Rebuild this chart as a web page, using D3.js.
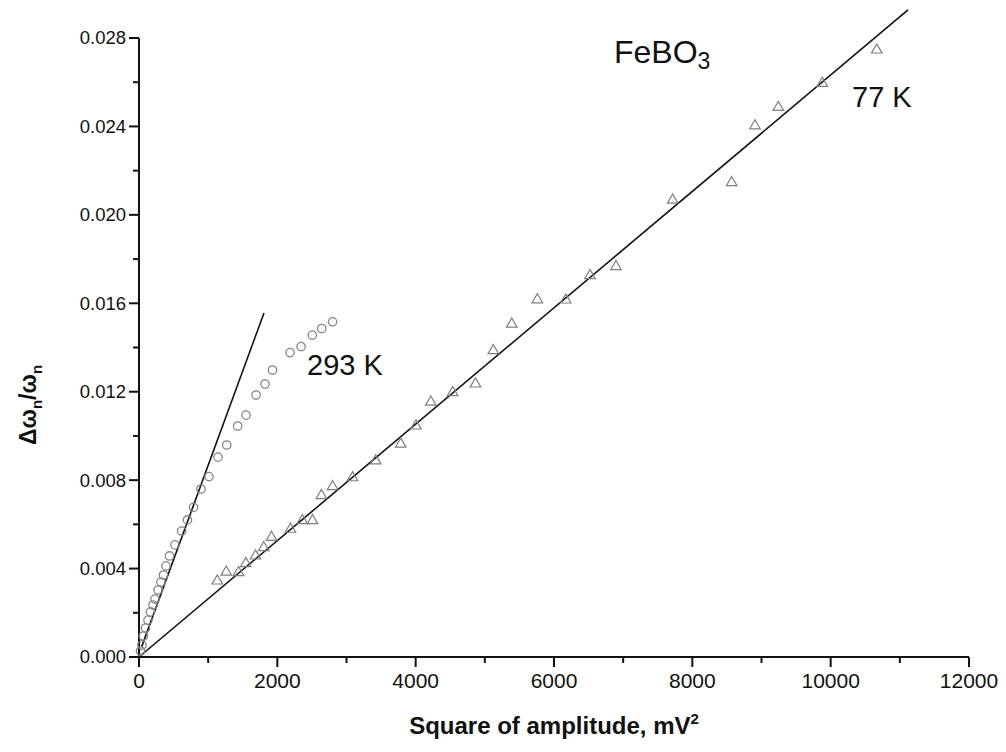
<!DOCTYPE html>
<html>
<head>
<meta charset="utf-8">
<script src="https://cdn.jsdelivr.net/npm/d3@7"></script>
<style>
  html, body { margin: 0; padding: 0; background: #fff; }
  svg { display: block; }
</style>
</head>
<body>
<svg id="chart" width="1006" height="752"></svg>
<script>
// ---- data ----
const xTickValues = [0, 2000, 4000, 6000, 8000, 10000, 12000];
const yTickValues = [0, 0.004, 0.008, 0.012, 0.016, 0.020, 0.024, 0.028];
const xMinorTicks = [1000, 3000, 5000, 7000, 9000, 11000];
const yMinorTicks = [0.002, 0.006, 0.010, 0.014, 0.018, 0.022, 0.026];

// 293 K (circles)
const amp293 = [22, 43, 62, 94, 130, 166, 202, 231, 275, 318, 354, 390, 441, 520, 617, 701, 788, 896, 1012, 1142, 1268, 1427, 1547, 1692, 1822, 1930, 2183, 2343, 2506, 2642, 2798];
const dw293  = [0.00027, 0.00054, 0.00095, 0.00131, 0.00167, 0.00204, 0.00235, 0.00262, 0.00303, 0.00339, 0.00371, 0.00412, 0.00457, 0.00507, 0.00570, 0.00620, 0.00677, 0.00760, 0.00816, 0.00904, 0.00959, 0.01045, 0.01094, 0.01185, 0.01235, 0.01298, 0.01377, 0.01404, 0.01456, 0.01486, 0.01516];

// 77 K (triangles)
const amp77 = [1132, 1262, 1439, 1544, 1684, 1803, 1916, 2190, 2361, 2508, 2637, 2799, 3087, 3422, 3784, 4005, 4219, 4535, 4865, 5122, 5389, 5759, 6169, 6521, 6896, 7716, 8569, 8906, 9243, 9879, 10666];
const dw77  = [0.00344, 0.00384, 0.00382, 0.00423, 0.00457, 0.00495, 0.00541, 0.00578, 0.00617, 0.00617, 0.00730, 0.00771, 0.00811, 0.00887, 0.00963, 0.01045, 0.01153, 0.01196, 0.01235, 0.01386, 0.01506, 0.01616, 0.01615, 0.01725, 0.01766, 0.02067, 0.02146, 0.02403, 0.02486, 0.02595, 0.02746];

// linear fits (end points)
const fit293X = [39, 1807];
const fit293Y = [0.00047, 0.01556];
const fit77X = [0, 11118];
const fit77Y = [0, 0.02927];

// ---- layout ----
const svg = d3.select("#chart");
const x = d3.scaleLinear().domain([0, 12000]).range([139, 969]);
const y = d3.scaleLinear().domain([0, 0.028]).range([657, 38]);

const axisColor = "#111";

// X axis
const gx = svg.append("g").attr("transform", `translate(0,${y(0)})`);
gx.append("line").attr("x1", x(0)).attr("x2", x(12000)).attr("y1", 0).attr("y2", 0)
  .attr("stroke", axisColor).attr("stroke-width", 2);
gx.selectAll(".xmaj").data(xTickValues).join("line")
  .attr("x1", d => x(d)).attr("x2", d => x(d)).attr("y1", 0).attr("y2", 10)
  .attr("stroke", axisColor).attr("stroke-width", 2);
gx.selectAll(".xmin").data(xMinorTicks).join("line")
  .attr("x1", d => x(d)).attr("x2", d => x(d)).attr("y1", 0).attr("y2", 6)
  .attr("stroke", axisColor).attr("stroke-width", 2);
gx.selectAll(".xlab").data(xTickValues).join("text")
  .attr("x", d => x(d)).attr("y", 31)
  .attr("text-anchor", "middle")
  .attr("font-family", "'Liberation Sans Narrow', 'Arial Narrow', 'Liberation Sans', Arial, sans-serif")
  .attr("font-size", 21).attr("fill", "#111")
  .text(d => d3.format("d")(d));

// Y axis
const gy = svg.append("g").attr("transform", `translate(${x(0)},0)`);
gy.append("line").attr("x1", 0).attr("x2", 0).attr("y1", y(0)).attr("y2", y(0.028))
  .attr("stroke", axisColor).attr("stroke-width", 2);
gy.selectAll(".ymaj").data(yTickValues).join("line")
  .attr("x1", 0).attr("x2", -10).attr("y1", d => y(d)).attr("y2", d => y(d))
  .attr("stroke", axisColor).attr("stroke-width", 2);
gy.selectAll(".ymin").data(yMinorTicks).join("line")
  .attr("x1", 0).attr("x2", -6).attr("y1", d => y(d)).attr("y2", d => y(d))
  .attr("stroke", axisColor).attr("stroke-width", 2);
gy.selectAll(".ylab").data(yTickValues).join("text")
  .attr("x", -13).attr("y", d => y(d)).attr("dy", "0.35em")
  .attr("text-anchor", "end")
  .attr("font-family", "'Liberation Sans', Arial, sans-serif")
  .attr("font-size", 18.5).attr("fill", "#111")
  .text(d => d3.format(".3f")(d));

// Axis titles
const xt = svg.append("text")
  .attr("x", (x(0) + x(12000)) / 2).attr("y", 734)
  .attr("text-anchor", "middle")
  .attr("font-family", "'Liberation Sans Narrow', 'Arial Narrow', 'Liberation Sans', Arial, sans-serif")
  .attr("font-weight", "bold").attr("font-size", 24).attr("fill", "#111");
xt.append("tspan").text("Square of amplitude, mV");
xt.append("tspan").attr("font-size", 15).attr("dy", -10).text("2");

const yt = svg.append("text")
  .attr("transform", "translate(36,405) rotate(-90)")
  .attr("text-anchor", "middle")
  .attr("font-family", "'Liberation Sans', Arial, sans-serif")
  .attr("font-weight", "bold").attr("font-size", 23).attr("fill", "#111");
yt.append("tspan").text("Δω");
yt.append("tspan").attr("font-size", 15).attr("dy", 6).text("n");
yt.append("tspan").attr("dy", -6).text("/ω");
yt.append("tspan").attr("font-size", 15).attr("dy", 6).text("n");

// Fit lines
const line = d3.line().x(d => x(d[0])).y(d => y(d[1]));
svg.append("path").datum(d3.zip(fit293X, fit293Y)).attr("d", line)
  .attr("fill", "none").attr("stroke", "#111").attr("stroke-width", 1.6);
svg.append("path").datum(d3.zip(fit77X, fit77Y)).attr("d", line)
  .attr("fill", "none").attr("stroke", "#111").attr("stroke-width", 1.6);

// Circles 293 K
svg.append("g").selectAll("circle").data(d3.zip(amp293, dw293)).join("circle")
  .attr("cx", d => x(d[0])).attr("cy", d => y(d[1])).attr("r", 4.2)
  .attr("fill", "none").attr("stroke", "#858585").attr("stroke-width", 1.3);

// Triangles 77 K
const tri = d3.symbol().type(d3.symbolTriangle).size(48);
svg.append("g").selectAll("path").data(d3.zip(amp77, dw77)).join("path")
  .attr("d", tri)
  .attr("transform", d => `translate(${x(d[0])},${y(d[1])})`)
  .attr("fill", "none").attr("stroke", "#7f7f7f").attr("stroke-width", 1.2);

// Annotations
const fontMain = "'Liberation Sans', Arial, sans-serif";
svg.append("text").attr("x", 307).attr("y", 375)
  .attr("font-family", fontMain).attr("font-size", 29).attr("fill", "#111").text("293 K");
svg.append("text").attr("x", 852).attr("y", 107)
  .attr("font-family", fontMain).attr("font-size", 29).attr("fill", "#111").text("77 K");
const fe = svg.append("text").attr("x", 614).attr("y", 63)
  .attr("font-family", fontMain).attr("font-size", 32).attr("fill", "#111");
fe.append("tspan").text("FeBO");
fe.append("tspan").attr("font-size", 23).attr("dy", 6).text("3");
</script>
</body>
</html>
